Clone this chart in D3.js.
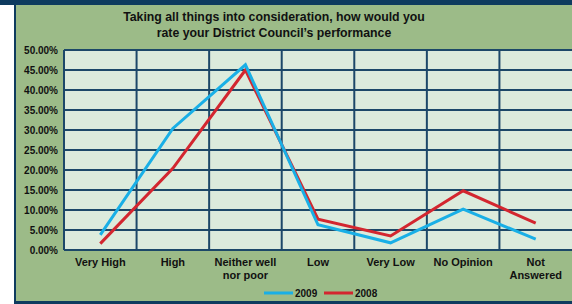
<!DOCTYPE html>
<html><head><meta charset="utf-8">
<script src="https://cdn.jsdelivr.net/npm/d3@7"></script>
<style>
html,body{margin:0;padding:0;background:#fff;overflow:hidden;}
svg{display:block;font-family:"Liberation Sans",Arial,sans-serif;}
</style></head>
<body>
<svg id="c" width="572" height="304"></svg>
<script>
const categories = ["Very High","High","Neither well\nnor poor","Low","Very Low","No Opinion","Not\nAnswered"];
const values2009 = [3.8, 30.4, 46.3, 6.3, 1.8, 10.2, 2.7];
const values2008 = [1.6, 20.4, 45.0, 7.7, 3.5, 14.8, 6.7];
const yTicks = [0,5,10,15,20,25,30,35,40,45,50];
const seriesNames = ["2009","2008"];
const titleLines = ["Taking all things into consideration, how would you","rate your District Council\u2019s performance"];

const svg = d3.select("#c");
const navy = "#0e3b5f", green = "#9cbb88", plotFill = "#dcebdc", grid = "#1c4868";
const blue = "#19afe6", red = "#d3262f";

// frame
svg.append("rect").attr("x",0).attr("y",0).attr("width",572).attr("height",304).attr("fill","#fff");
svg.append("rect").attr("x",15).attr("y",0).attr("width",557).attr("height",302).attr("fill",green);
svg.append("rect").attr("x",0).attr("y",0).attr("width",572).attr("height",5).attr("fill",navy);
svg.append("rect").attr("x",14).attr("y",0).attr("width",2).attr("height",304).attr("fill",navy);
svg.append("rect").attr("x",14).attr("y",301).attr("width",558).attr("height",3).attr("fill",navy);

const x = d3.scaleBand().domain(categories).range([64,572]).padding(0);
const y = d3.scaleLinear().domain([0,50]).range([250,50]);

svg.append("rect").attr("x",64).attr("y",50).attr("width",508).attr("height",200).attr("fill",plotFill);

// horizontal grid
svg.append("g").selectAll("line").data(yTicks).join("line")
  .attr("x1",64).attr("x2",572).attr("y1",d=>y(d)).attr("y2",d=>y(d))
  .attr("stroke",grid).attr("stroke-width",2);
// vertical grid
svg.append("g").selectAll("line").data(categories).join("line")
  .attr("x1",d=>x(d)).attr("x2",d=>x(d)).attr("y1",50).attr("y2",250)
  .attr("stroke",grid).attr("stroke-width",2);

// y axis labels
const yAxis = d3.axisLeft(y).tickValues(yTicks).tickFormat(d=>d.toFixed(2)+"%").tickSize(0).tickPadding(6);
const yg = svg.append("g").attr("transform","translate(64,0)").call(yAxis);
yg.select(".domain").remove();
yg.selectAll("text").attr("font-size",10).attr("font-weight","bold").attr("fill","#111")
  .attr("font-family","'Liberation Sans',Arial,sans-serif").attr("dy","0.35em");

// x axis labels
const xAxis = d3.axisBottom(x).tickSize(0).tickFormat("");
const xg = svg.append("g").attr("transform","translate(0,250)").call(xAxis);
xg.select(".domain").remove();
xg.selectAll(".tick").each(function(d){
  const t = d3.select(this).append("text").attr("fill","#111").attr("font-size",11).attr("font-weight","bold")
    .attr("text-anchor","middle").attr("font-family","'Liberation Sans',Arial,sans-serif");
  d.split("\n").forEach((s,i)=>t.append("tspan").attr("x",0).attr("y",16+i*13).text(s));
});

// lines
const line = d3.line().x((d,i)=>x(categories[i])+x.bandwidth()/2).y(d=>y(d));
svg.append("path").datum(values2008).attr("d",line).attr("fill","none").attr("stroke",red).attr("stroke-width",3).attr("stroke-linejoin","miter");
svg.append("path").datum(values2009).attr("d",line).attr("fill","none").attr("stroke",blue).attr("stroke-width",3).attr("stroke-linejoin","miter");

// title
const tt = svg.append("text").attr("text-anchor","middle").attr("font-size",12.3).attr("font-weight","bold").attr("fill","#111");
titleLines.forEach((s,i)=>tt.append("tspan").attr("x",274).attr("y",21+i*16).text(s));

// legend
const leg = [{name:seriesNames[0],color:blue,x:264},{name:seriesNames[1],color:red,x:324}];
leg.forEach(l=>{
  svg.append("line").attr("x1",l.x).attr("x2",l.x+29).attr("y1",293).attr("y2",293).attr("stroke",l.color).attr("stroke-width",3);
  svg.append("text").attr("x",l.x+31).attr("y",296.5).attr("font-size",10).attr("font-weight","bold").attr("fill","#111").text(l.name);
});
</script>
</body></html>
